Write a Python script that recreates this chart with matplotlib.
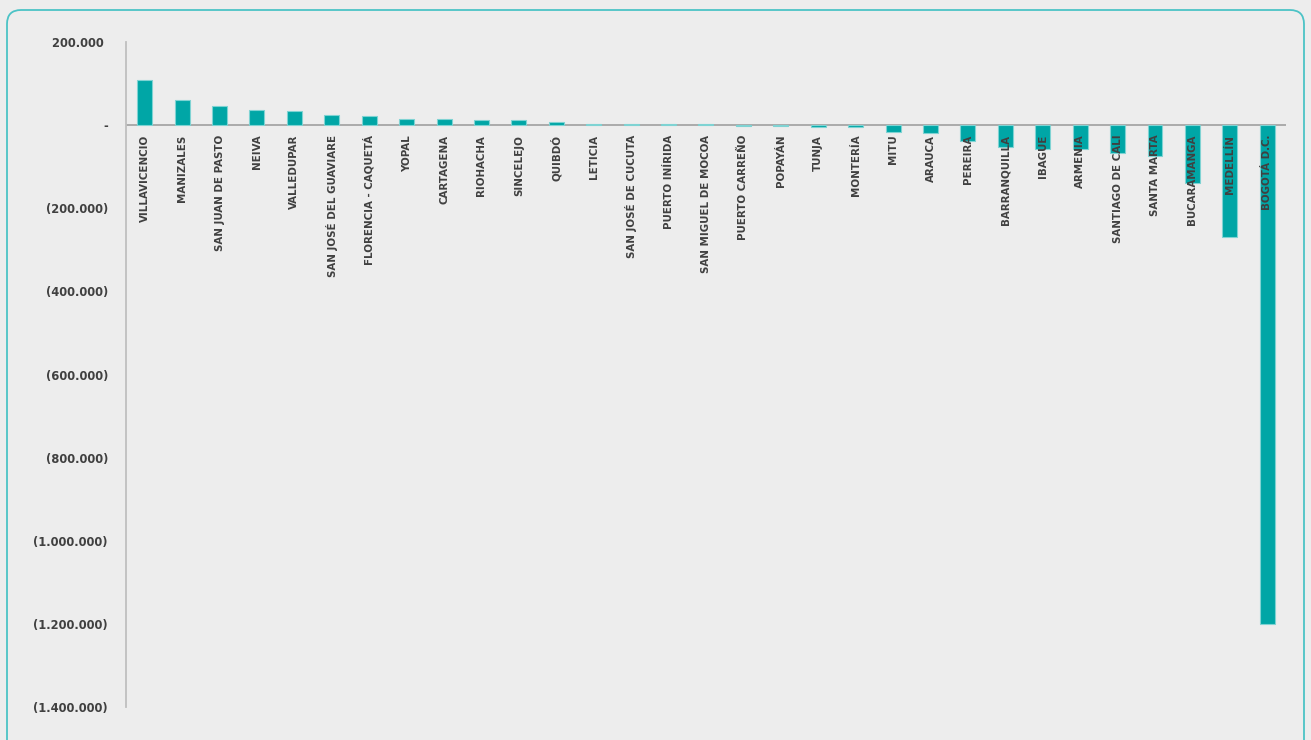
import numpy as np
import matplotlib.pyplot as plt
from matplotlib.patches import FancyBboxPatch
from matplotlib.ticker import FuncFormatter

# ciudades y variacion
cities = ["VILLAVICENCIO", "MANIZALES", "SAN JUAN DE PASTO", "NEIVA", "VALLEDUPAR",
          "SAN JOSÉ DEL GUAVIARE", "FLORENCIA - CAQUETÁ", "YOPAL", "CARTAGENA", "RIOHACHA",
          "SINCELEJO", "QUIBDÓ", "LETICIA", "SAN JOSÉ DE CUCUTA", "PUERTO INÍRIDA",
          "SAN MIGUEL DE MOCOA", "PUERTO CARREÑO", "POPAYÁN", "TUNJA", "MONTERÍA",
          "MITU", "ARAUCA", "PEREIRA", "BARRANQUILLA", "IBAGUE", "ARMENIA",
          "SANTIAGO DE CALI", "SANTA MARTA", "BUCARAMANGA", "MEDELLÍN", "BOGOTÁ D.C."]
values = [108000, 61400, 45300, 36600, 34200,
          24600, 22100, 15700, 15000, 13200,
          13000, 6700, 3500, 3500, 3500,
          3500, -1500, -1500, -5000, -5000,
          -16400, -19700, -37300, -52600, -58200, -58200,
          -67000, -73500, -138500, -269400, -1199500]
yticks = [200000, 0, -200000, -400000, -600000, -800000, -1000000, -1200000, -1400000]

bar_color = "#00A6A6"
text_color = "#404040"
bg = "#EDEDED"

fig = plt.figure(figsize=(13.11, 7.40), dpi=100, facecolor=bg)
ax = fig.add_axes([0.0961, 0.0446, 0.8848, 0.8986])
ax.set_facecolor(bg)

x = np.arange(len(cities))
ax.bar(x, values, width=0.40, color=bar_color, edgecolor="#7FD3D3", linewidth=0.8, zorder=2)

ax.set_xlim(-0.5, len(cities) - 0.5)
ax.set_ylim(-1400000, 200000)
ax.axhline(0, color="#A6A6A6", linewidth=1.3, zorder=1)

def fmt(v, pos):
    if v == 0:
        return "-"
    s = f"{abs(int(v)):,}".replace(",", ".")
    return f"({s})" if v < 0 else s + " "

ax.set_yticks(yticks)
ax.yaxis.set_major_formatter(FuncFormatter(fmt))
ax.tick_params(axis="y", length=0, pad=13, labelsize=8.3, labelcolor=text_color)
for t in ax.get_yticklabels():
    t.set_fontweight("bold")
ax.set_xticks([])

for s in ["top", "right", "bottom"]:
    ax.spines[s].set_visible(False)
ax.spines["left"].set_color("#BFBFBF")
ax.spines["left"].set_linewidth(1.3)

# etiquetas de categoria bajo la linea de cero
for xi, name in zip(x, cities):
    ax.annotate(name, (xi, 0), xytext=(0, -7), textcoords="offset points",
                rotation=90, ha="center", va="top", fontsize=7.4, fontweight="bold",
                color=text_color, zorder=3)

# marco redondeado
frame = FancyBboxPatch((7, -30), 1297, 760, boxstyle="round,pad=0,rounding_size=14",
                       transform=None, facecolor="none", edgecolor="#4CC3C6", linewidth=1.3)
fig.patches.append(frame)

fig.savefig("out.png", dpi=100, facecolor=bg)
